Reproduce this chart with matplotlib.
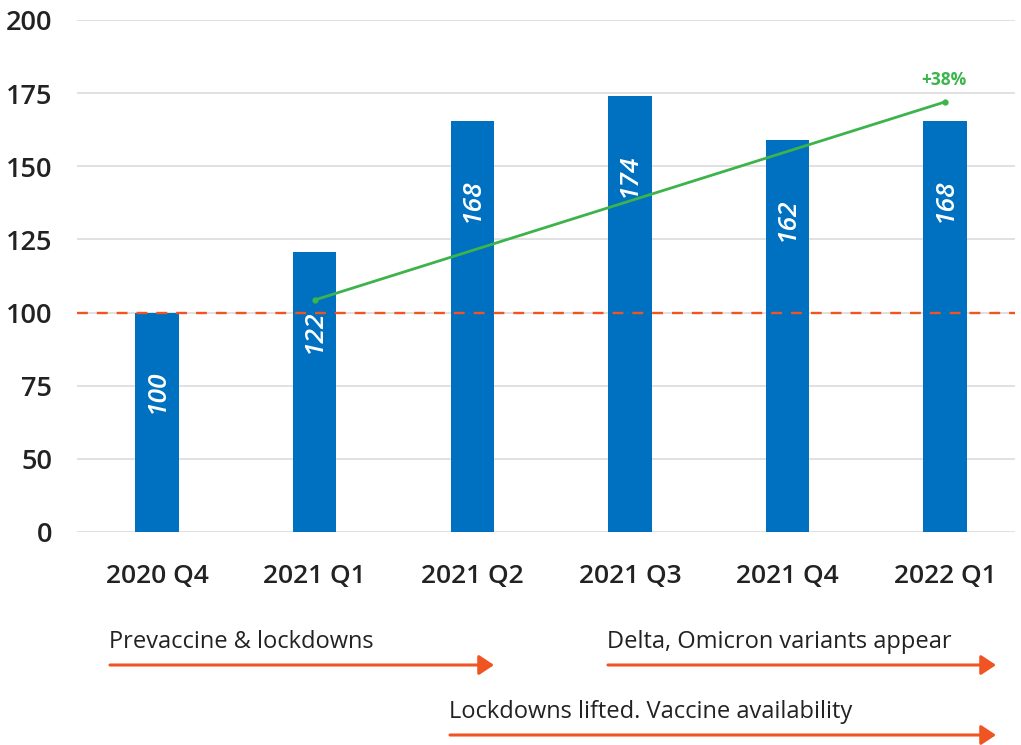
import matplotlib
matplotlib.use("Agg")
import matplotlib.pyplot as plt

plt.rcParams['font.family'] = ['Open Sans', 'DejaVu Sans']

quarters = ["2020 Q4", "2021 Q1", "2021 Q2", "2021 Q3", "2021 Q4", "2022 Q1"]
bar_heights = [100, 120.8, 165.5, 174, 159, 165.5]
bar_labels = ["100", "122", "168", "174", "162", "168"]
baseline = 100
trend_x = [1, 5]
trend_y = [104.3, 172.0]
trend_label = "+38%"
ytick_pos = [25, 50, 75, 100, 125, 150, 175, 200]
ytick_labels = ["0", "50", "75", "100", "125", "150", "175", "200"]
phases = ["Prevaccine & lockdowns", "Delta, Omicron variants appear",
          "Lockdowns lifted. Vaccine availability"]

W, H = 1021, 745
fig = plt.figure(figsize=(W / 100, H / 100), dpi=100)
ax = fig.add_axes([77 / W, 1 - 532 / H, (1015 - 77) / W, (532 - 20) / H])

bar_color = "#0070C0"
red = "#F05423"
green = "#3CB44B"
dark = "#222222"

x = list(range(len(quarters)))
ax.bar(x, [h - 25 for h in bar_heights], bottom=25, width=0.275,
       color=bar_color, zorder=2)
for xi, h, lab in zip(x, bar_heights, bar_labels):
    ax.annotate(lab, (xi, h), xytext=(0, -57), textcoords="offset points",
                rotation=90, ha="center", va="center", color="white",
                fontsize=19, style="italic", fontweight="semibold", zorder=4)

ax.axhline(baseline, color=red, lw=1.7, dashes=(4.6, 3.8), zorder=3)
ax.plot(trend_x, trend_y, color=green, lw=2, zorder=5, solid_capstyle="round")
ax.plot(trend_x, trend_y, "o", color=green, ms=3.5, zorder=5)
ax.annotate(trend_label, (trend_x[1], trend_y[1]), xytext=(-1, 9),
            textcoords="offset points", ha="center", va="bottom", color=green,
            fontsize=12.5, fontweight="bold")

ax.set_ylim(25, 200)
ax.set_xlim(-0.508, 5.444)
ax.set_yticks(ytick_pos)
ax.set_yticklabels(ytick_labels)
ax.set_xticks(x)
ax.set_xticklabels(quarters)
ax.grid(axis="y", color="#D9D9D9", lw=1.1, zorder=0)
ax.set_axisbelow(True)
for s in ax.spines.values():
    s.set_visible(False)
ax.tick_params(axis="both", length=0, labelsize=19.5, colors=dark)
ax.tick_params(axis="y", pad=18)
ax.tick_params(axis="x", pad=23, labelsize=19)
for t in ax.get_xticklabels() + ax.get_yticklabels():
    t.set_fontweight("semibold")
for t in ax.get_yticklabels():
    t.set_horizontalalignment("right")

def fp(px, py):
    return (px / W, 1 - py / H)

arrows = [(110, 494, 665, phases[0]), (608, 996, 665, phases[1]),
          (450, 996, 735, phases[2])]
for x0, x1, yy, txt in arrows:
    ax.annotate("", xy=fp(x1, yy), xytext=fp(x0, yy), xycoords="figure fraction",
                textcoords="figure fraction",
                arrowprops=dict(arrowstyle="-|>,head_length=0.45,head_width=0.3",
                                mutation_scale=20, color=red, lw=2.2,
                                shrinkA=0, shrinkB=0))
    fig.text(*fp(x0 - 1, yy - 17), txt, ha="left", va="baseline", fontsize=17,
             color=dark)

fig.savefig("out.png", dpi=100, facecolor="white")
